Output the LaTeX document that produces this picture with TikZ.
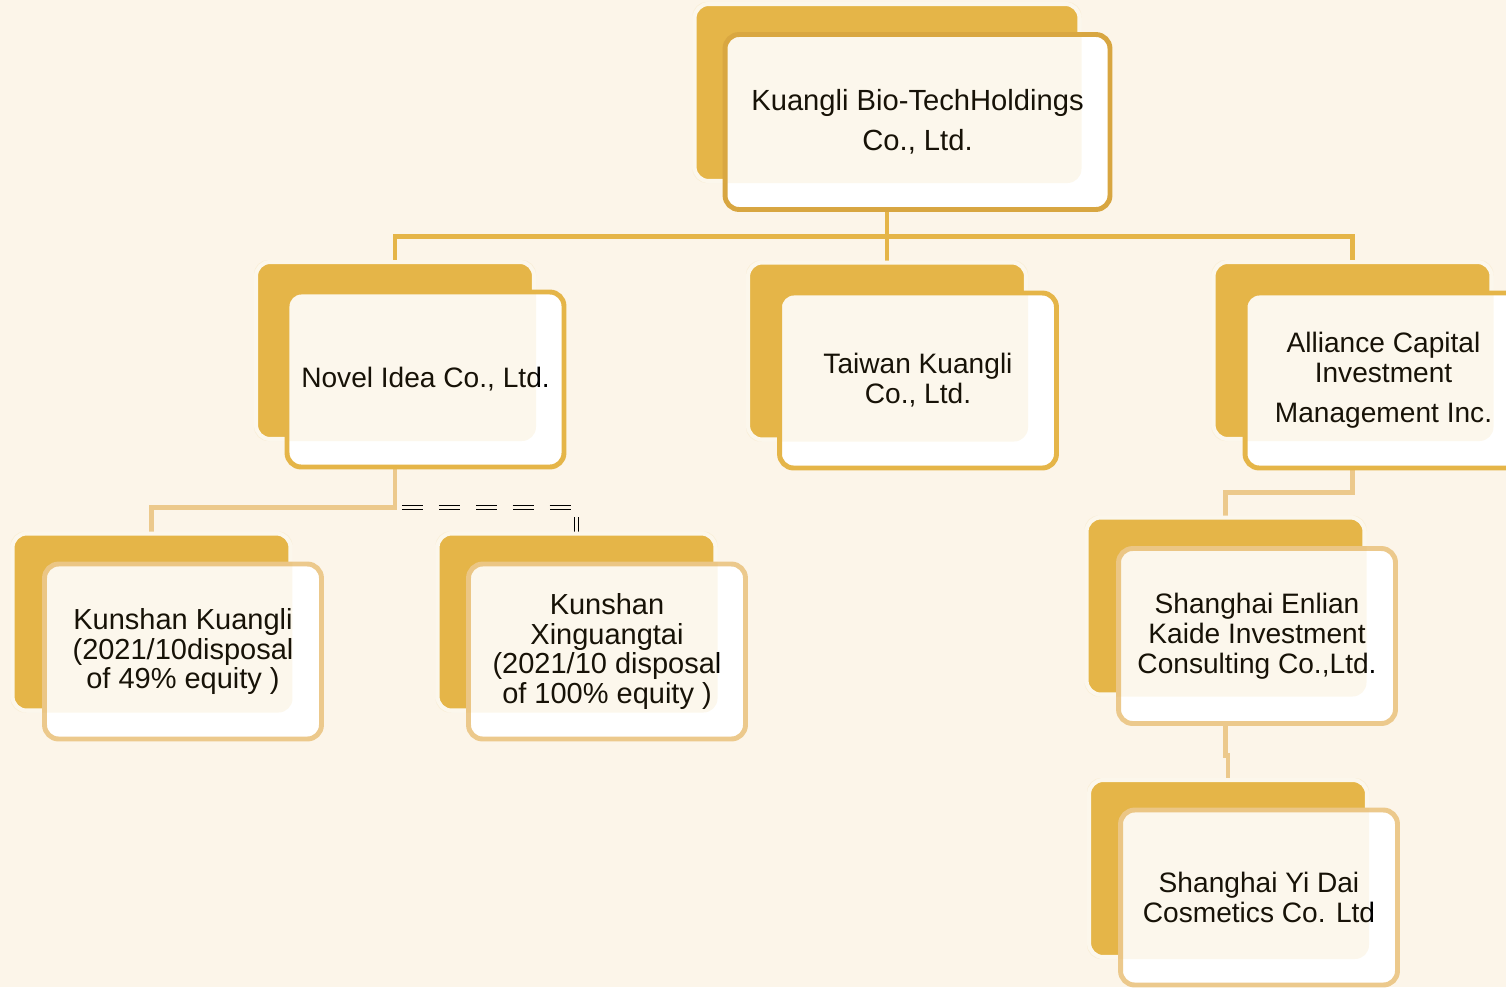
\documentclass[tikz,border=0pt]{standalone}
\usepackage{fontspec}
\setmainfont{Liberation Sans}
\usetikzlibrary{backgrounds}
\definecolor{paper}{HTML}{FCF5E9}
\definecolor{gold}{HTML}{E5B548}
\definecolor{darkgold}{HTML}{D8A641}
\definecolor{palegold}{HTML}{ECC98C}
\begin{document}
\begin{tikzpicture}[x=0.02cm,y=-0.02cm,
    backbox/.style={fill=gold,draw=white,line width=2.3pt,rounded corners=8pt,
      minimum width=5.56cm,minimum height=3.54cm,inner sep=0pt},
    frontbox/.style={fill=white,draw=#1,line width=2.8pt,rounded corners=8pt,
      minimum width=5.54cm,minimum height=3.5cm,inner sep=0pt,align=center,
      font=\fontsize{16}{17}\selectfont},
    tint/.style={fill=gold,fill opacity=.1,rounded corners=8pt},
    link/.style={draw=#1,line width=2.8pt},
    pledge/.style={draw=black,line width=0.7pt,double=paper,double distance=1.9pt,
      dash pattern=on 11.9pt off 9.1pt,dash phase=17pt}]
  \useasboundingbox (0,0) rectangle (1506,987);
  \begin{scope}[on background layer]
    \fill[paper] (0,0) rectangle (1506,987);
  \end{scope}
  \clip (0,0) rectangle (1506,987);
  % Holding company
  \node[backbox,minimum width=7.7cm] (holdb) at (887,92.5) {};
  \node[frontbox=darkgold,minimum width=7.7cm,minimum height=3.5cm,
    font=\fontsize{16.6}{22.7}\selectfont] (hold) at (917.5,122)
    {Kuangli Bio-TechHoldings\\Co., Ltd.};
  % Subsidiaries
  \node[backbox] (novelb) at (395,350.5) {};
  \node[frontbox=gold] (novel) at (425.5,379.5) {Novel Idea Co., Ltd.};
  \node[backbox] (taiwanb) at (887,351) {};
  \node[frontbox=gold] (taiwan) at (918,380.5) {Taiwan Kuangli\\Co., Ltd.};
  \node[backbox] (allib) at (1352.5,350.5) {};
  \node[frontbox=gold] (alli) at (1383.5,380.5)
    {Alliance Capital\\Investment\\[5.7pt]Management Inc.};
  % Second tier
  \node[backbox] (kkb) at (151.5,622) {};
  \node[frontbox=palegold,font=\fontsize{16.5}{17}\selectfont] (kk) at (183,651.5)
    {Kunshan Kuangli\\(2021/10disposal\\of 49\% equity )};
  \node[backbox] (kxb) at (576.5,622) {};
  \node[frontbox=palegold,font=\fontsize{16.5}{17}\selectfont] (kx) at (607,651.5)
    {Kunshan\\Xinguangtai\\(2021/10 disposal\\of 100\% equity )};
  \node[backbox] (seb) at (1225.5,606) {};
  \node[frontbox=palegold] (se) at (1257,636)
    {Shanghai Enlian\\Kaide Investment\\Consulting Co.,Ltd.};
  \node[backbox] (syb) at (1228,868.5) {};
  \node[frontbox=palegold] (sy) at (1259,897.5)
    {Shanghai Yi Dai\\Cosmetics Co. Ltd};
  % Overlap shading
  \foreach \b in {holdb,novelb,taiwanb,allib,kkb,kxb,seb,syb}
    \fill[tint] (\b.south west) rectangle (\b.north east);
  % Connectors
  \begin{scope}[on background layer]
    \draw[link=gold] (hold.south -| holdb) -- ++(0,25) -| (novelb.north);
    \draw[link=gold] (hold.south -| holdb) -- ++(0,25) -| (allib.north);
    \draw[link=gold] (hold.south -| holdb) -- (taiwanb.north);
    \draw[link=palegold] (novel.south -| novelb) -- ++(0,38) -| (kkb.north);
    \draw[pledge] (novel.south -| novelb) ++(0,38) -| (kxb.north);
    \draw[link=palegold] (alli.south -| allib) -- ++(0,22) -| (seb.north);
    \draw[link=palegold] (se.south -| seb) -- ++(0,30) -| (syb.north);
  \end{scope}
\end{tikzpicture}
\end{document}
